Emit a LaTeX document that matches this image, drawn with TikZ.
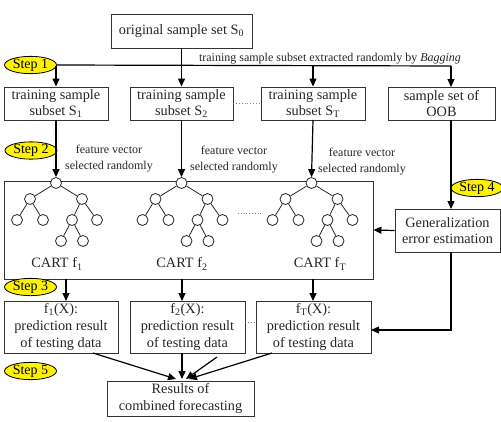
\documentclass[tikz,border=0pt]{standalone}
\usepackage{fontspec}
\setmainfont{Liberation Serif}
\usetikzlibrary{arrows.meta,shapes.geometric}
\newcommand\cartTree[2]{%
  \node[tn] (#1r) at (#2,183) {};
  \node[tn] (#1a) at (#2-26,199) {};
  \node[tn] (#1b) at (#2+26,199) {};
  \node[tn] (#1c) at (#2-39,220) {};
  \node[tn] (#1d) at (#2-13,220) {};
  \node[tn] (#1e) at (#2+16,220) {};
  \node[tn] (#1f) at (#2+41,220) {};
  \node[tn] (#1g) at (#2+5,241) {};
  \node[tn] (#1h) at (#2+27,241) {};
  \draw[te] (#1r) -- (#1a); \draw[te] (#1r) -- (#1b);
  \draw[te] (#1a) -- (#1c); \draw[te] (#1a) -- (#1d);
  \draw[te] (#1b) -- (#1e); \draw[te] (#1b) -- (#1f);
  \draw[te] (#1e) -- (#1g); \draw[te] (#1e) -- (#1h);
}
\begin{document}
\begin{tikzpicture}[x=1pt,y=-1pt,
 box/.style={draw=black!80, line width=0.9pt, inner sep=0pt, align=center, font=\fontsize{14.3}{16.7}\selectfont, text=black!85},
 lbl/.style={inner sep=0pt, align=center, font=\fontsize{12}{16}\selectfont, text=black!85},
 stepel/.style={ellipse, draw=black, fill=yellow, line width=0.8pt, minimum width=52pt, minimum height=17pt, inner sep=0pt, font=\fontsize{14}{15}\selectfont},
 arr/.style={line width=1.2pt, -{Triangle[length=8pt,width=7pt]}},
 ln/.style={line width=1.2pt},
 tn/.style={circle, draw=black!85, line width=0.8pt, fill=white, minimum size=11pt, inner sep=0pt},
 te/.style={line width=0.8pt, draw=black!85},
 dots/.style={dotted, gray, line width=0.8pt}]
\useasboundingbox (0,0) rectangle (501,421);

% boxes
\node[box, minimum width=141pt, minimum height=34pt] (orig) at (181.5,31) {original sample set S\textsubscript{0}};
\node[box, minimum width=104pt, minimum height=33pt] (s1) at (56,103.5) {training sample\\subset S\textsubscript{1}};
\node[box, minimum width=103pt, minimum height=33pt] (s2) at (181.5,103.5) {training sample\\subset S\textsubscript{2}};
\node[box, minimum width=104pt, minimum height=33pt] (sT) at (313,103.5) {training sample\\subset S\textsubscript{T}};
\node[box, minimum width=107pt, minimum height=33pt] (oob) at (441.5,103.5) {sample set of\\OOB};
\node[box, minimum width=369pt, minimum height=98pt] (cart) at (188.5,230) {};
\node[box, minimum width=105pt, minimum height=43pt] (gen) at (447.5,230.5) {Generalization\\error estimation};
\node[box, minimum width=114pt, minimum height=52pt] (f1) at (61,327) {f\textsubscript{1}(X):\\prediction result\\of testing data};
\node[box, minimum width=115pt, minimum height=52pt] (f2) at (187.5,327) {f\textsubscript{2}(X):\\prediction result\\of testing data};
\node[box, minimum width=115pt, minimum height=52pt] (fT) at (313.5,327) {f\textsubscript{T}(X):\\prediction result\\of testing data};
\node[box, minimum width=147pt, minimum height=35pt] (res) at (180.5,398.5) {Results of\\combined forecasting};

% steps
\node[stepel] (st1) at (30.5,65) {Step 1};
\node[stepel] (st2) at (31,150.5) {Step 2};
\node[stepel] (st3) at (30.5,287) {Step 3};
\node[stepel] (st4) at (477,188) {Step 4};
\node[stepel] (st5) at (30.5,371) {Step 5};

% labels
\node[lbl, anchor=base] (bag) at (330,61) {training sample subset extracted randomly by \textit{Bagging}};
\node[lbl] (fv1) at (109,159) {feature vector\\selected randomly};
\node[lbl] (fv2) at (234,160) {feature vector\\selected randomly};
\node[lbl] (fv3) at (362,162) {feature vector\\selected randomly};

% trees
\cartTree{ta}{56}
\cartTree{tb}{181.5}
\cartTree{tc}{311.5}
\node[box, draw=none] (c1) at (57,264) {CART f\textsubscript{1}};
\node[box, draw=none] (c2) at (182,264) {CART f\textsubscript{2}};
\node[box, draw=none] (c3) at (320,264) {CART f\textsubscript{T}};

% bus
\coordinate (b1) at (56,66);
\coordinate (b3) at (313,66);
\coordinate (b4) at (451,66);
\coordinate (ot) at (451,87);
\draw[ln] (st1.east) -- (b4);
\draw[arr] (orig.south) -- (s2.north);
\draw[arr] (b1) -- (s1.north);
\draw[arr] (b3) -- (sT.north);
\draw[arr] (b4) -- (ot);
\coordinate (ob) at (451,120);
\coordinate (gt) at (451,209);
\draw[arr] (ob) -- (gt);

% to trees
\draw[arr] (s1.south) -- (tar.north);
\draw[arr] (s2.south) -- (tbr.north);
\draw[arr] (313,120) -- (tcr.north);

% gen
\draw[arr] (gen.west) -- (cart.east);
\coordinate (gb) at (451,252);
\coordinate (fTe) at (371,330);
\draw[arr] (gb) |- (fTe);

% cart to outputs
\coordinate (k1) at (66,279);
\coordinate (k2) at (182,279);
\coordinate (k3) at (313,279);
\draw[arr] (k1) -- (66,301);
\draw[arr] (k2) -- (182,301);
\draw[arr] (k3) -- (313,301);

% to results
\coordinate (o1) at (93,353);
\coordinate (o2) at (182,353);
\coordinate (o3) at (272,353);
\coordinate (o4) at (217,357);
\draw[arr] (o1) -- (176,379);
\draw[arr] (o2) -- (182,379);
\draw[arr] (o3) -- (189,379);
\draw[arr] (o4) -- (186,379);

% dots
\draw[dots] (s2.east) -- (sT.west);
\draw[dots] (238,213) -- (262,213);
\draw[dots] (f2.east |- 0,322) -- (fT.west |- 0,322);
\end{tikzpicture}
\end{document}
